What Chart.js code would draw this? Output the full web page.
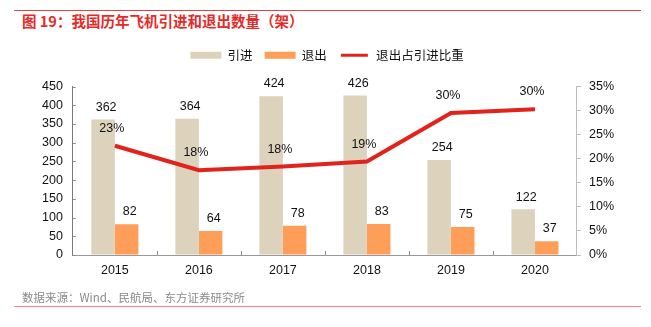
<!DOCTYPE html>
<html lang="zh">
<head>
  <meta charset="UTF-8">
  <title>飞机引进和退出数量</title>
  <style>
    body { margin: 0; background: #fff; width: 651px; height: 327px; position: relative; overflow: hidden;
      font-family: "Liberation Sans", "Noto Sans CJK SC", sans-serif; }
    .rule { position: absolute; left: 14px; width: 627px; height: 0; }
    .rule.top { top: 10px; border-top: 1px solid #e8413f; }
    .rule.bottom { top: 306px; border-top: 1.5px solid #ea8582; }
    .title { position: absolute; left: 22px; top: 10px; font-size: 14.5px; font-weight: bold; color: #e52a28;
      font-family: "Noto Sans CJK SC", sans-serif; }
    .source { position: absolute; left: 22px; top: 289px; font-size: 11.5px; color: #8a8a8a;
      font-family: "Noto Sans CJK SC", sans-serif; }
    #box { position: absolute; left: 0; top: 37px; width: 651px; height: 253px; }
  </style>
</head>
<body>
  <div class="rule top"></div>
  <div class="title">图 19：我国历年飞机引进和退出数量（架）</div>
  <div id="box"><canvas id="chart"></canvas></div>
  <div class="source">数据来源：Wind、民航局、东方证券研究所</div>
  <div class="rule bottom"></div>

  <script src="https://cdn.jsdelivr.net/npm/chart.js"></script>
  <script>
    const years = ['2015', '2016', '2017', '2018', '2019', '2020'];
    const planesIn = [362, 364, 424, 426, 254, 122];
    const planesOut = [82, 64, 78, 83, 75, 37];
    const outShare = [22.7, 17.6, 18.4, 19.4, 29.5, 30.3];
    const countTicks = [0, 50, 100, 150, 200, 250, 300, 350, 400, 450];
    const shareTicks = [0, 5, 10, 15, 20, 25, 30, 35];

    const numFont = { family: '"Liberation Sans", "Noto Sans CJK SC", sans-serif', size: 12.5 };

    // value labels above bars and line points
    const valueLabels = {
      id: 'valueLabels',
      afterDatasetsDraw(chart) {
        const ctx = chart.ctx;
        ctx.save();
        ctx.font = '12.5px "Liberation Sans", sans-serif';
        ctx.fillStyle = '#111';
        ctx.textAlign = 'center';
        ctx.textBaseline = 'bottom';
        chart.data.datasets.forEach((ds, di) => {
          const meta = chart.getDatasetMeta(di);
          meta.data.forEach((el, i) => {
            const v = ds.data[i];
            if (ds.type === 'line') {
              ctx.fillText(Math.round(v) + '%', el.x - 3, el.y - 11);
            } else {
              ctx.fillText(v, el.x + 3, el.y - 6);
            }
          });
        });
        ctx.restore();
      }
    };

    // small inward ticks on the left and bottom axes
    const axisTicks = {
      id: 'axisTicks',
      afterDraw(chart) {
        const { ctx, scales: { x, y } } = chart;
        ctx.save();
        ctx.strokeStyle = '#8c8c8c';
        ctx.lineWidth = 1;
        y.ticks.forEach((t, i) => {
          const py = Math.round(y.getPixelForTick(i)) + 0.5;
          ctx.beginPath(); ctx.moveTo(y.right, py); ctx.lineTo(y.right + 3, py); ctx.stroke();
        });
        const n = years.length;
        for (let i = 1; i < n; i++) {
          const px = Math.round(x.left + i * x.width / n) + 0.5;
          ctx.beginPath(); ctx.moveTo(px, x.top); ctx.lineTo(px, x.top - 4); ctx.stroke();
        }
        ctx.restore();
      }
    };

    // extra room between the legend and the plot
    const legendGap = {
      id: 'legendGap',
      beforeInit(chart) {
        const fit = chart.legend.fit;
        chart.legend.fit = function () {
          fit.call(this);
          this.height += 15;
        };
      }
    };

    new Chart(document.getElementById('chart'), {
      data: {
        labels: years,
        datasets: [
          { type: 'line', label: '退出占引进比重', data: outShare, yAxisID: 'y2', order: 0,
            borderColor: '#e1231b', backgroundColor: '#e1231b', borderWidth: 4, pointRadius: 0, tension: 0 },
          { type: 'bar', label: '引进', data: planesIn, yAxisID: 'y', order: 1,
            backgroundColor: '#ddd3bc', categoryPercentage: 0.56, barPercentage: 1 },
          { type: 'bar', label: '退出', data: planesOut, yAxisID: 'y', order: 1,
            backgroundColor: '#fe9e58', categoryPercentage: 0.56, barPercentage: 1 }
        ]
      },
      options: {
        responsive: true,
        maintainAspectRatio: false,
        animation: false,
        layout: { padding: { left: 32, right: 29, top: 0, bottom: 4 } },
        plugins: {
          tooltip: { enabled: false },
          legend: {
            position: 'top',
            labels: {
              font: { family: '"Noto Sans CJK SC", sans-serif', size: 12.5 },
              color: '#111',
              boxWidth: 31,
              boxHeight: 7,
              padding: 12,
              generateLabels(chart) {
                const order = [1, 2, 0];
                return order.map(i => {
                  const ds = chart.data.datasets[i];
                  const isLine = ds.type === 'line';
                  return {
                    text: ds.label,
                    fillStyle: ds.backgroundColor,
                    strokeStyle: '#fff',
                    lineWidth: isLine ? 4 : 0,
                    fontColor: '#111',
                    datasetIndex: i
                  };
                });
              }
            }
          }
        },
        scales: {
          x: {
            offset: true,
            grid: { display: false, drawTicks: false },
            border: { color: '#999' },
            ticks: { color: '#111', font: numFont, padding: 8 }
          },
          y: {
            position: 'left',
            min: 0, max: 450,
            afterBuildTicks(axis) { axis.ticks = countTicks.map(v => ({ value: v })); },
            grid: { drawOnChartArea: false, drawTicks: false },
            border: { color: '#7a7a7a' },
            ticks: { color: '#111', font: numFont, padding: 10, autoSkip: false }
          },
          y2: {
            position: 'right',
            min: 0, max: 35,
            afterBuildTicks(axis) { axis.ticks = shareTicks.map(v => ({ value: v })); },
            grid: { drawOnChartArea: false, tickLength: 4, color: '#bbb' },
            border: { color: '#bbb' },
            ticks: { color: '#111', font: numFont, padding: 8, autoSkip: false, callback: v => v + '%' }
          }
        }
      },
      plugins: [valueLabels, axisTicks, legendGap]
    });
  </script>
</body>
</html>
